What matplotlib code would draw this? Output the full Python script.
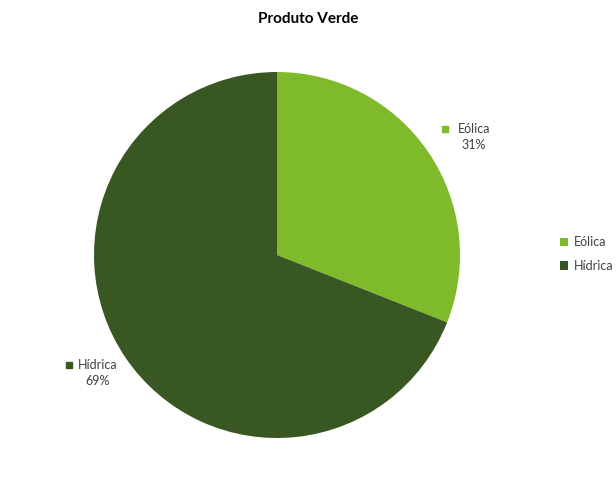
import numpy as np
import matplotlib
matplotlib.use("Agg")
import matplotlib.pyplot as plt
from matplotlib.patches import Patch
from matplotlib.transforms import offset_copy

plt.rcParams['font.family'] = ['Lato', 'DejaVu Sans']

title = "Produto Verde"
categories = ["Eólica", "Hídrica"]
values = [31, 69]
colors = ["#7FBA2A", "#385723"]

fig = plt.figure(figsize=(6.16, 4.78), dpi=100)
ax = fig.add_axes([94/616, 40/478, 366/616, 366/478])
wedges, _ = ax.pie(values, colors=colors, startangle=90, counterclock=False,
                   radius=1.0, wedgeprops=dict(linewidth=0))
ax.set_xlim(-1, 1)
ax.set_ylim(-1, 1)
ax.set_aspect('equal')
ax.axis('off')

# label offsets (points) from the radial anchor at r=1.2
label_offsets = [(11.0, -4.0), (1.5, 4.0)]
for w, cat, val, c, (ox, oy) in zip(wedges, categories, values, colors, label_offsets):
    ang = np.deg2rad((w.theta1 + w.theta2) / 2)
    x, y = 1.2 * np.cos(ang), 1.2 * np.sin(ang)
    ttr = offset_copy(ax.transData, fig=fig, x=ox, y=oy, units='points')
    ax.text(x, y, f"{cat}\n{val}%", ha='center', va='center', fontsize=9,
            color='#404040', linespacing=1.45, transform=ttr)
    mtr = offset_copy(ax.transData, fig=fig, x=ox - 20.5, y=oy + 5.8, units='points')
    ax.plot([x], [y], marker='s', markersize=4.5, color=c, transform=mtr,
            clip_on=False, linestyle='none')

fig.text(308/616, 1 - 19/478, title, ha='center', va='center',
         fontsize=11, fontweight='bold', color='black')

handles = [Patch(facecolor=c, edgecolor='none') for c in colors]
fig.legend(handles, categories, loc='center left',
           bbox_to_anchor=(560/616, 1 - 254/478), frameon=False,
           borderpad=0, borderaxespad=0,
           fontsize=9, handlelength=0.65, handleheight=0.65, handletextpad=0.45,
           labelspacing=0.95, labelcolor='#404040')

fig.savefig("out.png", dpi=100, facecolor='white')
